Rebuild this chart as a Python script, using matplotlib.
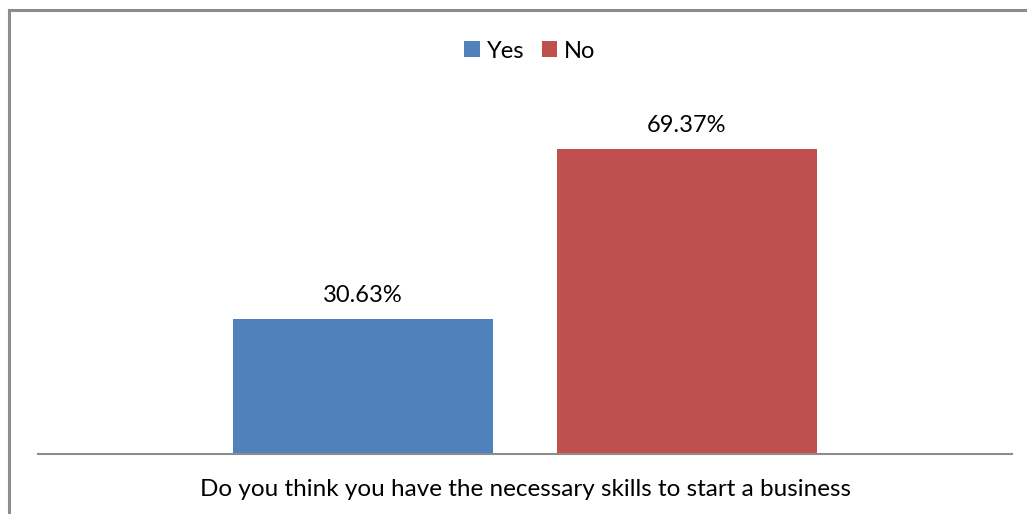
import matplotlib
matplotlib.use("Agg")
import matplotlib.pyplot as plt
from matplotlib.patches import Rectangle
import numpy as np

category = "Do you think you have the necessary skills to start a business"
series = ["Yes", "No"]
values = [30.63, 69.37]
colors = ["#4F81BD", "#C0504D"]

plt.rcParams['font.family'] = ['Lato', 'DejaVu Sans']

W, H = 1027, 514
fig = plt.figure(figsize=(W/100, H/100), dpi=100)

# outer border (chart area frame)
fig.patches.append(Rectangle((9/W, -0.1), 1.2, (H-10)/H + 0.1, transform=fig.transFigure,
                             fill=False, edgecolor="#8C8C8C", linewidth=2.2))

ax = fig.add_axes([38/W, 60/H, 974/W, 352/H])
ax.set_xlim(-0.5, 0.5)
ax.set_ylim(0, 80)
width = 0.267
offsets = [-0.1663, 0.1663]
for s, v, c, o in zip(series, values, colors, offsets):
    ax.bar(o, v, width=width, color=c, label=s)
    ax.text(o, v + 3.0, f"{v:.2f}%", ha="center", va="bottom", fontsize=17, color="black")

for sp in ["top", "right", "left"]:
    ax.spines[sp].set_visible(False)
ax.spines["bottom"].set_color("#8C8C8C")
ax.spines["bottom"].set_linewidth(1.5)
ax.set_yticks([])
ax.set_xticks([0])
ax.set_xticklabels([category], fontsize=17.5)
ax.tick_params(axis="x", length=0, pad=18)

leg = fig.legend(loc="center", bbox_to_anchor=(530/W, 1 - 51/H), ncol=2, frameon=False,
                 fontsize=17, handlelength=0.65, handleheight=0.65, handletextpad=0.3,
                 columnspacing=0.75)

fig.savefig("out.png", dpi=100)
